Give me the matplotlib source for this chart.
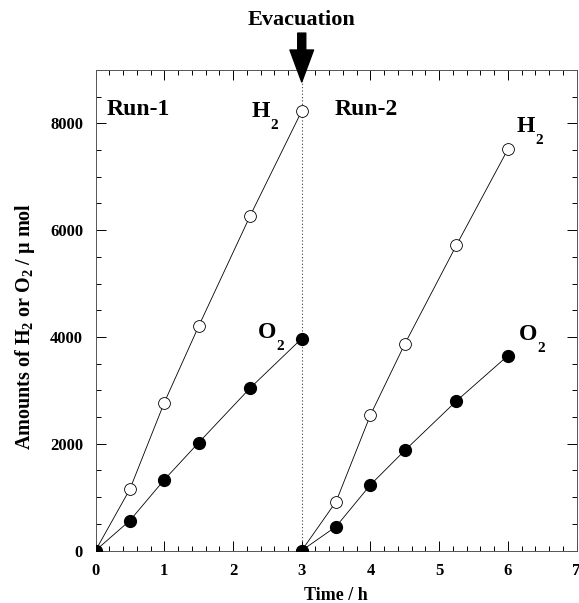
import matplotlib
matplotlib.use("Agg")
import matplotlib.pyplot as plt
from matplotlib.ticker import MultipleLocator

plt.rcParams['font.family'] = 'Liberation Serif'
plt.rcParams['font.weight'] = 'bold'
plt.rcParams['mathtext.fontset'] = 'custom'
plt.rcParams['mathtext.rm'] = 'Liberation Serif:bold'
plt.rcParams['mathtext.bf'] = 'Liberation Serif:bold'
plt.rcParams['mathtext.it'] = 'Liberation Serif:bold'

# Run-1 (0-3 h) and Run-2 (3-6 h, after evacuation)
t_run1 = [0, 0.5, 1, 1.5, 2.25, 3]
h2_run1 = [0, 1150, 2770, 4200, 6270, 8230]
o2_run1 = [0, 562, 1325, 2020, 3044, 3970]

t_run2 = [3, 3.5, 4, 4.5, 5.25, 6]
h2_run2 = [0, 918, 2540, 3870, 5717, 7517]
o2_run2 = [0, 450, 1231, 1875, 2800, 3650]

evac_time = 3

fig = plt.figure(figsize=(5.79, 6.03), dpi=100)
ax = fig.add_axes([0.165, 0.087, 0.831, 0.797])

line_kw = dict(color='black', linewidth=0.6, markersize=8.5)
for t, h2, o2 in [(t_run1, h2_run1, o2_run1), (t_run2, h2_run2, o2_run2)]:
    ax.plot(t, h2, marker='o', markerfacecolor='white', markeredgecolor='black',
            markeredgewidth=0.6, zorder=3, **line_kw)
    ax.plot(t, o2, marker='o', markerfacecolor='black', markeredgecolor='black',
            zorder=3, **line_kw)

ax.axvline(evac_time, color='#444444', linestyle=(0, (1, 2)), linewidth=0.8, zorder=1)

ax.set_xlim(0, 7)
ax.set_ylim(0, 9000)
ax.xaxis.set_major_locator(MultipleLocator(1))
ax.xaxis.set_minor_locator(MultipleLocator(0.2))
ax.yaxis.set_major_locator(MultipleLocator(2000))
ax.yaxis.set_minor_locator(MultipleLocator(500))
ax.tick_params(which='both', direction='in', top=True, right=True, labelsize=12, width=0.7)
ax.tick_params(which='major', length=7, pad=9)
ax.tick_params(which='minor', length=3.5)
for lab in ax.get_xticklabels() + ax.get_yticklabels():
    lab.set_fontweight('bold')
for sp in ax.spines.values():
    sp.set_linewidth(0.7)
    sp.set_color('#555555')

ax.set_xlabel('Time / h', fontsize=13, fontweight='bold', labelpad=6)
ax.set_ylabel(r'Amounts of H$_{2}$ or O$_{2}$ / $\mathrm{\mu}$ mol', fontsize=14.5,
              fontweight='bold')
ax.yaxis.set_label_coords(-0.122, 0.466)

ax.text(0.16, 8260, 'Run-1', fontsize=17, fontweight='bold', va='center', ha='left')
ax.text(3.48, 8260, 'Run-2', fontsize=17, fontweight='bold', va='center', ha='left')


def gas_label(x, y, letter):
    # big letter with a low, offset subscript 2
    ax.text(x, y, letter, fontsize=17, fontweight='bold', va='center', ha='left')
    ax.annotate('2', xy=(x, y), xytext=(13.5, -10), textcoords='offset points',
                fontsize=11, fontweight='bold', va='center', ha='left')


gas_label(2.27, 8220, 'H')
gas_label(2.36, 4080, 'O')
gas_label(6.13, 7940, 'H')
gas_label(6.16, 4045, 'O')

ax.annotate('', xy=(evac_time, 8775), xytext=(evac_time, 9690),
            arrowprops=dict(facecolor='black', edgecolor='black', width=5.8,
                            headwidth=17, headlength=23), annotation_clip=False)
ax.text(evac_time, 9940, 'Evacuation', fontsize=16, fontweight='bold',
        ha='center', va='center')

fig.savefig('out.png', dpi=100)
